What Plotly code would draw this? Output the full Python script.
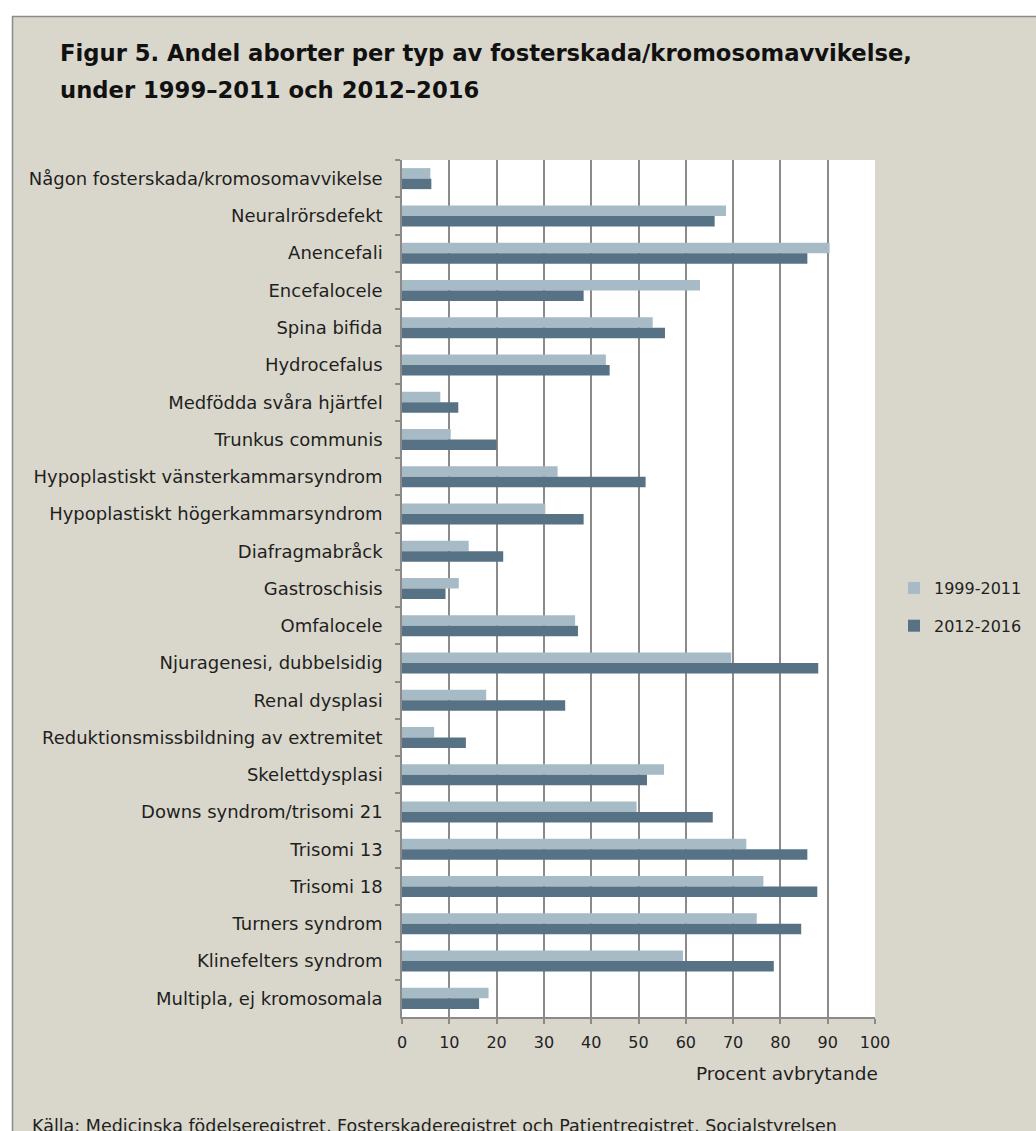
import plotly.graph_objects as go

categories = [
    "Någon fosterskada/kromosomavvikelse",
    "Neuralrörsdefekt",
    "Anencefali",
    "Encefalocele",
    "Spina bifida",
    "Hydrocefalus",
    "Medfödda svåra hjärtfel",
    "Trunkus communis",
    "Hypoplastiskt vänsterkammarsyndrom",
    "Hypoplastiskt högerkammarsyndrom",
    "Diafragmabråck",
    "Gastroschisis",
    "Omfalocele",
    "Njuragenesi, dubbelsidig",
    "Renal dysplasi",
    "Reduktionsmissbildning av extremitet",
    "Skelettdysplasi",
    "Downs syndrom/trisomi 21",
    "Trisomi 13",
    "Trisomi 18",
    "Turners syndrom",
    "Klinefelters syndrom",
    "Multipla, ej kromosomala",
]

period_1999_2011 = [6.0, 68.5, 90.4, 63.0, 53.0, 43.1, 8.1, 10.3, 32.9, 30.3, 14.1, 12.0,
                    36.6, 69.6, 17.8, 6.8, 55.4, 49.6, 72.8, 76.4, 75.0, 59.4, 18.3]
period_2012_2016 = [6.2, 66.1, 85.7, 38.4, 55.6, 43.9, 11.9, 20.0, 51.5, 38.4, 21.4, 9.2,
                    37.2, 88.0, 34.5, 13.5, 51.8, 65.7, 85.7, 87.8, 84.4, 78.6, 16.3]

series_names = ["1999-2011", "2012-2016"]
x_ticks = [0, 10, 20, 30, 40, 50, 60, 70, 80, 90, 100]

title_lines = ["Figur 5. Andel aborter per typ av fosterskada/kromosomavvikelse,",
               "under 1999–2011 och 2012–2016"]
x_title = "Procent avbrytande"
source_text = "Källa: Medicinska födelseregistret, Fosterskaderegistret och Patientregistret, Socialstyrelsen"

W, H = 1036, 1131
L, R, T, B = 402, 875, 160, 1017
BG = "#d9d7cb"
GRID = "#8a8a8a"
LIGHT = "#a6bbc6"
DARK = "#577285"
FONT = "DejaVu Sans"
TXT = "#1f1f1f"


def px(x):
    return (x - L) / (R - L)


def py(y):
    return (B - y) / (B - T)


fig = go.Figure()
fig.add_trace(go.Bar(y=categories, x=period_1999_2011, name=series_names[0], orientation="h",
                     marker=dict(color=LIGHT, line=dict(width=0)), legendgroup="a"))
fig.add_trace(go.Bar(y=categories, x=period_2012_2016, name=series_names[1], orientation="h",
                     marker=dict(color=DARK, line=dict(width=0)), legendgroup="b"))

fig.update_layout(
    width=W, height=H,
    margin=dict(l=L, r=W - R, t=T, b=H - B, pad=0, autoexpand=False),
    paper_bgcolor=BG, plot_bgcolor="white",
    barmode="group", bargap=0.436, bargroupgap=0,
    font=dict(family=FONT, size=16, color=TXT),
    showlegend=True,
    legend=dict(x=px(894), y=py(571), xanchor="left", yanchor="top",
                bgcolor="rgba(0,0,0,0)", font=dict(size=16, color=TXT),
                traceorder="grouped", tracegroupgap=14, itemwidth=30),
)

fig.update_xaxes(range=[0, 100], tickvals=x_ticks, ticktext=[str(v) for v in x_ticks],
                 showgrid=True, gridcolor=GRID, gridwidth=1.5, zeroline=False,
                 showline=True, linecolor=GRID, linewidth=1.5,
                 ticks="outside", ticklen=5, tickcolor=GRID, tickwidth=1.5,
                 tickfont=dict(size=16, color=TXT), ticklabelstandoff=5, fixedrange=True)
fig.update_yaxes(autorange="reversed", categoryorder="array", categoryarray=categories,
                 showline=True, linecolor=GRID, linewidth=1.5, showgrid=False,
                 ticks="outside", ticklen=5, tickcolor=GRID, tickwidth=1.5, tickson="boundaries",
                 tickfont=dict(size=18, color=TXT), ticklabelstandoff=14, fixedrange=True)

shapes = [
    dict(type="rect", xref="paper", yref="paper", x0=px(-10), x1=px(1050), y0=py(16), y1=py(-10),
         fillcolor="white", line=dict(width=0), layer="above"),
    dict(type="rect", xref="paper", yref="paper", x0=px(-10), x1=px(12), y0=py(1145), y1=py(-10),
         fillcolor="white", line=dict(width=0), layer="above"),
    dict(type="line", xref="paper", yref="paper", x0=px(12), x1=px(1050), y0=py(16.5), y1=py(16.5),
         line=dict(color=GRID, width=1.5)),
    dict(type="line", xref="paper", yref="paper", x0=px(12.5), x1=px(12.5), y0=py(16), y1=py(1145),
         line=dict(color=GRID, width=1.5)),
]
fig.update_layout(shapes=shapes)

annotations = [
    dict(text=title_lines[0], x=px(58), y=py(53), xanchor="left", yanchor="middle",
         font=dict(size=22.7, color="#111111"), showarrow=False,
         xref="paper", yref="paper"),
    dict(text=title_lines[1], x=px(58), y=py(90), xanchor="left", yanchor="middle",
         font=dict(size=22.7, color="#111111"), showarrow=False,
         xref="paper", yref="paper"),
    dict(text=x_title, x=px(880), y=py(1073), xanchor="right", yanchor="middle",
         font=dict(size=18.5, color=TXT), showarrow=False, xref="paper", yref="paper"),
    dict(text=source_text, x=px(30), y=py(1126), xanchor="left", yanchor="middle",
         font=dict(size=17.5, color=TXT), showarrow=False, xref="paper", yref="paper"),
]
fig.update_layout(annotations=annotations)
for a in fig.layout.annotations:
    a.font.family = FONT
fig.layout.annotations[0].font.weight = "bold"
fig.layout.annotations[1].font.weight = "bold"

fig.write_html("out.html")
